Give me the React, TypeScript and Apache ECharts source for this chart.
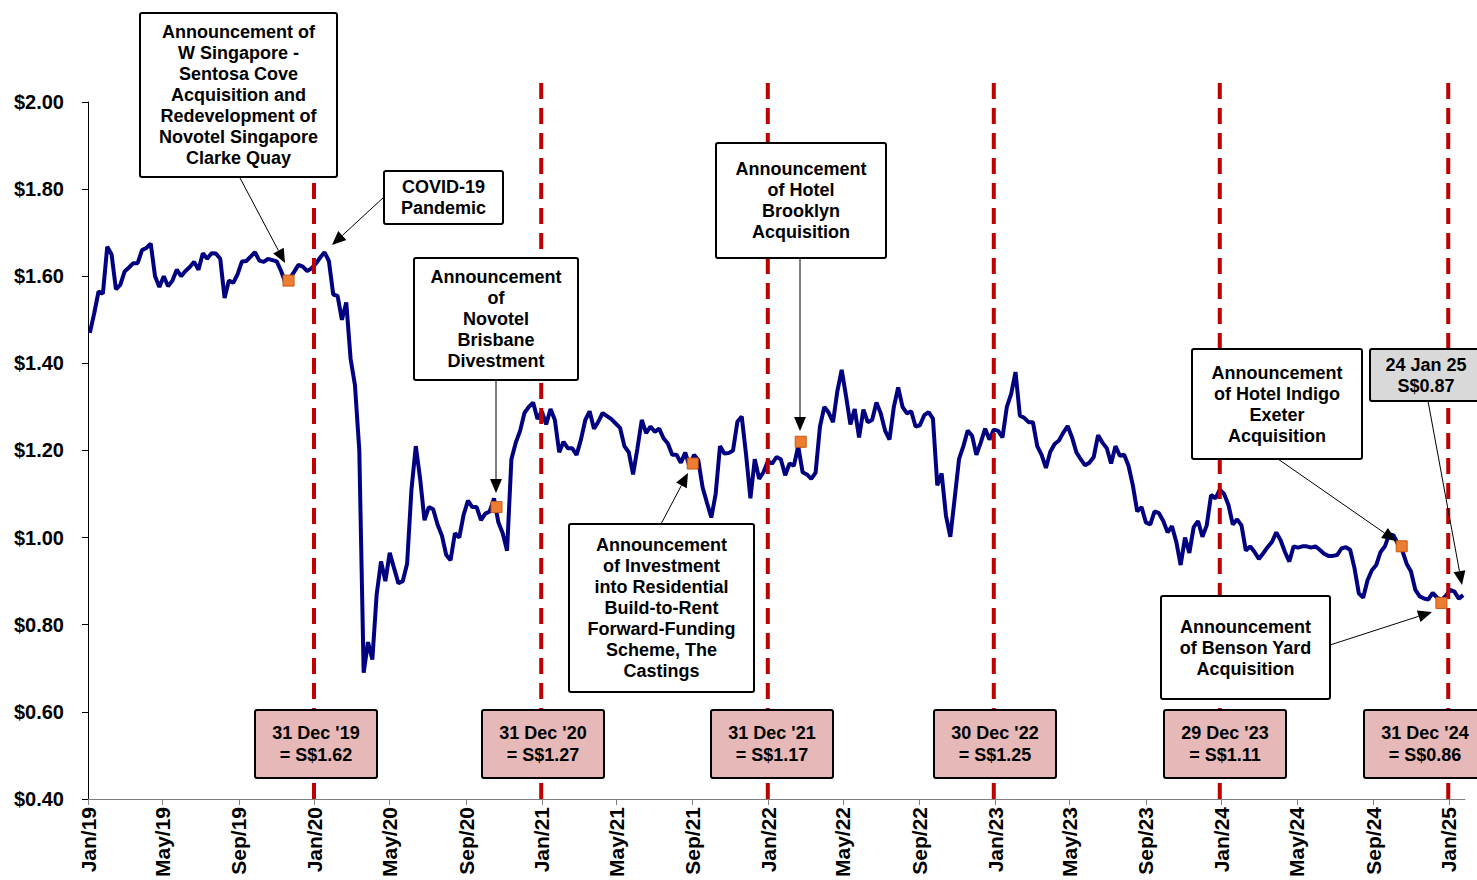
import React, { useEffect, useRef } from "react";
import * as echarts from "echarts";

// Weekly closing prices (Fridays) starting 4 Jan 2019
const startDate = "2019-01-04";
const weeklyClose = [
  1.47, 1.515, 1.565, 1.56, 1.668, 1.65, 1.57, 1.58, 1.611, 1.62,
  1.63, 1.63, 1.66, 1.665, 1.675, 1.60, 1.575, 1.60, 1.577, 1.59,
  1.615, 1.60, 1.612, 1.621, 1.633, 1.615, 1.653, 1.64, 1.653, 1.652,
  1.64, 1.55, 1.59, 1.585, 1.605, 1.634, 1.635, 1.645, 1.655, 1.636,
  1.633, 1.64, 1.637, 1.634, 1.612, 1.585, 1.595, 1.61, 1.626, 1.622,
  1.612, 1.618, 1.629, 1.643, 1.655, 1.635, 1.558, 1.555, 1.50, 1.54,
  1.41, 1.35, 1.20, 0.69, 0.76, 0.72, 0.87, 0.945, 0.90, 0.965,
  0.93, 0.895, 0.90, 0.94, 1.11, 1.21, 1.135, 1.04, 1.07, 1.065,
  1.03, 1.005, 0.96, 0.948, 1.01, 1.00, 1.052, 1.085, 1.07, 1.07,
  1.04, 1.055, 1.06, 1.09, 1.035, 1.01, 0.97, 1.18, 1.218, 1.245,
  1.286, 1.30, 1.31, 1.272, 1.29, 1.26, 1.295, 1.27, 1.196, 1.22,
  1.205, 1.205, 1.19, 1.225, 1.27, 1.29, 1.25, 1.266, 1.286, 1.279,
  1.272, 1.262, 1.252, 1.21, 1.196, 1.145, 1.205, 1.27, 1.24, 1.255,
  1.243, 1.25, 1.228, 1.216, 1.19, 1.19, 1.172, 1.195, 1.163, 1.19,
  1.178, 1.115, 1.08, 1.046, 1.10, 1.21, 1.193, 1.194, 1.20, 1.266,
  1.278, 1.19, 1.09, 1.18, 1.135, 1.15, 1.175, 1.17, 1.185, 1.18,
  1.143, 1.17, 1.165, 1.21, 1.15, 1.145, 1.135, 1.149, 1.255, 1.30,
  1.287, 1.265, 1.336, 1.385, 1.325, 1.26, 1.295, 1.23, 1.294, 1.265,
  1.27, 1.31, 1.285, 1.245, 1.225, 1.30, 1.345, 1.30, 1.285, 1.29,
  1.255, 1.258, 1.281, 1.288, 1.273, 1.12, 1.147, 1.05, 1.002, 1.09,
  1.18, 1.21, 1.246, 1.234, 1.19, 1.218, 1.25, 1.225, 1.248, 1.245,
  1.23, 1.30, 1.33, 1.38, 1.28, 1.275, 1.265, 1.265, 1.21, 1.19,
  1.16, 1.197, 1.215, 1.223, 1.241, 1.256, 1.23, 1.196, 1.18, 1.166,
  1.172, 1.185, 1.235, 1.218, 1.205, 1.17, 1.21, 1.188, 1.19, 1.165,
  1.12, 1.06, 1.07, 1.035, 1.03, 1.06, 1.056, 1.038, 1.012, 1.026,
  0.99, 0.937, 1.0, 0.965, 1.024, 1.038, 1.002, 1.028, 1.098, 1.09,
  1.11, 1.10, 1.075, 1.03, 1.042, 1.028, 0.97, 0.98, 0.967, 0.951,
  0.964, 0.978, 0.99, 1.012, 0.994, 0.967, 0.945, 0.98, 0.977, 0.98,
  0.98, 0.977, 0.98, 0.972, 0.963, 0.958, 0.958, 0.96, 0.975, 0.978,
  0.972, 0.93, 0.872, 0.862, 0.902, 0.925, 0.937, 0.967, 0.98, 1.008,
  1.005, 0.985, 0.97, 0.94, 0.922, 0.88, 0.865, 0.86, 0.858, 0.873,
  0.862, 0.857, 0.866, 0.88, 0.876, 0.86, 0.868,
];

// Event markers (orange squares)
const eventDates = ["2019-11-20", "2020-10-20", "2021-09-01", "2022-02-22", "2024-10-17", "2024-12-20"];
const eventValues = [1.59, 1.07, 1.17, 1.22, 0.98, 0.85];

// Year-end reference lines
const yearEndDates = ["2019-12-31", "2020-12-31", "2021-12-31", "2022-12-30", "2023-12-29", "2024-12-31"];
const yearEndTitles = ["31 Dec '19", "31 Dec '20", "31 Dec '21", "30 Dec '22", "29 Dec '23", "31 Dec '24"];
const yearEndPrices = ["1.62", "1.27", "1.17", "1.25", "1.11", "0.86"];
const refLineSpan = [0.4, 2.05];

// X tick labels
const tickDates = [
  "2019-01-01", "2019-05-01", "2019-09-01",
  "2020-01-01", "2020-05-01", "2020-09-01",
  "2021-01-01", "2021-05-01", "2021-09-01",
  "2022-01-01", "2022-05-01", "2022-09-01",
  "2023-01-01", "2023-05-01", "2023-09-01",
  "2024-01-01", "2024-05-01", "2024-09-01",
  "2025-01-01",
];
const monthNames = ["Jan", "Feb", "Mar", "Apr", "May", "Jun", "Jul", "Aug", "Sep", "Oct", "Nov", "Dec"];

const toTs = (s: string) => {
  const [y, m, d] = s.split("-").map(Number);
  return Date.UTC(y, m - 1, d);
};

const FONT = '"Liberation Sans", Arial, sans-serif';

function arrow(x1: number, y1: number, x2: number, y2: number) {
  const dx = x2 - x1;
  const dy = y2 - y1;
  const len = Math.hypot(dx, dy);
  const ux = dx / len;
  const uy = dy / len;
  const headLen = 14;
  const headW = 12;
  const bx = x2 - ux * headLen;
  const by = y2 - uy * headLen;
  const px = -uy;
  const py = ux;
  return [
    { type: "line", z: 100, shape: { x1, y1, x2: bx, y2: by }, style: { stroke: "#000", lineWidth: 1 } },
    {
      type: "polygon",
      z: 100,
      shape: {
        points: [
          [x2, y2],
          [bx + (px * headW) / 2, by + (py * headW) / 2],
          [bx - (px * headW) / 2, by - (py * headW) / 2],
        ],
      },
      style: { fill: "#000" },
    },
  ];
}

function box(x: number, y: number, w: number, h: number, text: string, fill: string, lineHeight = 21) {
  return [
    {
      type: "rect",
      z: 100,
      shape: { x, y, width: w, height: h, r: 2 },
      style: { fill, stroke: "#000", lineWidth: 2 },
    },
    {
      type: "text",
      z: 101,
      x: x + w / 2,
      y: y + h / 2,
      style: {
        text,
        fill: "#000",
        font: `bold 18px ${FONT}`,
        align: "center",
        verticalAlign: "middle",
        textAlign: "center",
        textVerticalAlign: "middle",
        lineHeight,
      },
    },
  ];
}

export default function App() {
  const ref = useRef<HTMLDivElement>(null);

  useEffect(() => {
    if (!ref.current) return;
    const chart = echarts.init(ref.current, undefined, { renderer: "svg" });
    const start = toTs(startDate);
    const priceData = weeklyClose.map((v, i) => [start + i * 7 * 86400000, v]);
    const eventData = eventDates.map((d, i) => [toTs(d), eventValues[i]]);
    const tickTs = tickDates.map(toTs);
    const refLineData: any[] = [];
    yearEndDates.forEach((d) => {
      const t = toTs(d);
      refLineData.push([t, refLineSpan[0]], [t, refLineSpan[1]], [t, "-"]);
    });

    const yearEndBoxX = [255, 482, 711, 934, 1164, 1364];
    const graphics: any[] = [];
    yearEndTitles.forEach((t, i) => {
      graphics.push(...box(yearEndBoxX[i], 710, 122, 68, `${t}\n= S$${yearEndPrices[i]}`, "#E6B8B7", 22));
    });
    graphics.push(
      ...box(140, 13, 197, 164, "Announcement of\nW Singapore -\nSentosa Cove\nAcquisition and\nRedevelopment of\nNovotel Singapore\nClarke Quay", "#fff"),
      ...arrow(240, 178, 285, 263),
      ...box(384, 171, 119, 53, "COVID-19\nPandemic", "#fff"),
      ...arrow(384, 197, 332, 245),
      ...box(414, 258, 164, 122, "Announcement\nof\nNovotel\nBrisbane\nDivestment", "#fff"),
      ...arrow(496, 380, 496, 493),
      ...box(569, 524, 185, 168, "Announcement\nof Investment\ninto Residential\nBuild-to-Rent\nForward-Funding\nScheme, The\nCastings", "#fff"),
      ...arrow(661, 524, 688, 473),
      ...box(716, 143, 170, 115, "Announcement\nof Hotel\nBrooklyn\nAcquisition", "#fff"),
      ...arrow(800, 258, 800, 431),
      ...box(1192, 349, 170, 110, "Announcement\nof Hotel Indigo\nExeter\nAcquisition", "#fff"),
      ...arrow(1278, 459, 1396, 541),
      ...box(1370, 349, 112, 52, "24 Jan 25\nS$0.87", "#D9D9D9"),
      ...arrow(1428, 401, 1462, 585),
      ...box(1161, 596, 169, 103, "Announcement\nof Benson Yard\nAcquisition", "#fff"),
      ...arrow(1330, 645, 1432, 612)
    );

    chart.setOption({
      animation: false,
      grid: { left: 88, right: 12, top: 102, bottom: 80 },
      xAxis: {
        type: "value",
        min: Date.UTC(2019, 0, 1),
        max: Date.UTC(2025, 0, 27),
        splitLine: { show: false },
        axisLine: { lineStyle: { color: "#7f7f7f", width: 1 } },
        axisTick: { show: true, customValues: tickTs, length: 6, lineStyle: { color: "#7f7f7f" } },
        axisLabel: {
          customValues: tickTs,
          rotate: 90,
          margin: 8,
          color: "#000",
          fontWeight: "bold",
          fontSize: 21,
          fontFamily: FONT,
          formatter: (v: number) => {
            const d = new Date(v);
            return `${monthNames[d.getUTCMonth()]}/${String(d.getUTCFullYear()).slice(2)}`;
          },
        },
      },
      yAxis: {
        type: "value",
        min: 0.4,
        max: 2.0,
        interval: 0.2,
        splitLine: { show: false },
        axisLine: { show: true, lineStyle: { color: "#000", width: 1 } },
        axisTick: { show: true, length: 6, lineStyle: { color: "#000" } },
        axisLabel: {
          margin: 24,
          color: "#000",
          fontWeight: "bold",
          fontSize: 20,
          fontFamily: FONT,
          formatter: (v: number) => `$${v.toFixed(2)}`,
        },
      },
      series: [
        {
          type: "line",
          data: priceData,
          showSymbol: false,
          symbol: "none",
          lineStyle: { color: "#000080", width: 4 },
          z: 2,
        },
        {
          type: "line",
          data: refLineData,
          showSymbol: false,
          symbol: "none",
          connectNulls: false,
          clip: false,
          silent: true,
          lineStyle: { color: "#C00000", width: 4, type: [16, 9] },
          z: 3,
        },
        {
          type: "scatter",
          data: eventData,
          symbol: "rect",
          symbolSize: 11,
          itemStyle: { color: "#ED7D31", borderColor: "#C65911", borderWidth: 1, opacity: 1 },
          z: 4,
        },
      ],
      graphic: graphics,
    });
    return () => chart.dispose();
  }, []);

  return <div ref={ref} style={{ position: "fixed", left: 0, top: 0, width: "1477px", height: "880px", background: "#fff" }} />;
}
